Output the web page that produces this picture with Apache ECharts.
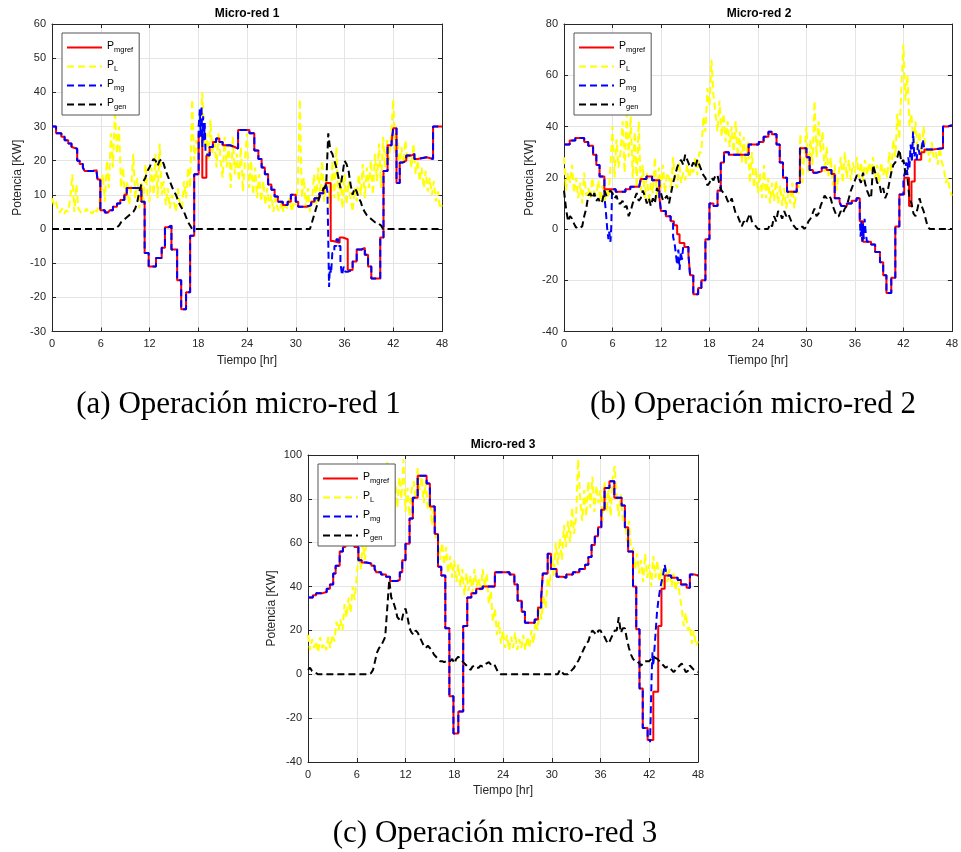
<!DOCTYPE html>
<html>
<head>
<meta charset="utf-8">
<title>Operación micro-redes</title>
<script src="https://cdn.jsdelivr.net/npm/echarts@6/dist/echarts.min.js"></script>
<style>
  html, body { margin: 0; padding: 0; background: #ffffff; }
  #chart { width: 961px; height: 852px; }
</style>
</head>
<body>
<div id="chart"></div>
<script>
// Sampling period of the measured load / generator series [h]
const STEP_H = 0.25;

// Time axis ticks [h]
const timeTicks = [0, 6, 12, 18, 24, 30, 36, 42, 48];

// ---------- Micro-red 1 ----------
const load1 = [
  9,7,8,5, 5,6,4.5,5.5, 5,9,16,5, 13,6,5,4.5,
  5,6,4.5,5, 4.5,6,5,7, 10,16,8,20, 12,28,18,35,
  22,30,12,18, 8,14,7,12, 22,9,15,6, 14,7,19,10,
  8,18,10,22, 9,25,10,14, 7,12,6,10, 8,5,12,7,
  6,14,9,18, 12,38,20,26, 22,30,40,24, 28,20,32,22,
  26,18,28,20, 15,27,18,25, 12,27,16,22, 14,24,11,20,
  28,12,20,10, 18,9,16,8, 14,7,12,6, 10,5,9,6,
  5,8,5,7, 6,9,5,8, 7,12,38,9, 15,6,12,5,
  8,16,7,18, 10,20,8,15, 12,6,20,9, 24,8,15,6,
  16,7,14,9, 5,12,8,16, 10,19,9,18, 12,20,10,22,
  14,25,12,27, 18,26,20,28, 38,22,27,18, 24,19,26,20,
  22,18,25,16, 20,14,18,12, 17,11,15,10, 14,8,11,6,
  7
];
const gen1 = [
  0,0,0,0, 0,0,0,0, 0,0,0,0, 0,0,0,0,
  0,0,0,0, 0,0,0,0, 0,0,0,0, 0,0,0,0,
  0.5,1,2,2.5, 3,3.5,4,4.5, 5,6,8,11, 13,14,15,17,
  18,19.5,20.5,20, 18.5,20,20.5,19, 17,15.5,14,12.5, 11,10,8.5,7,
  6,5,3.5,2, 1,0,0,0, 0,0,0,0, 0,0,0,0,
  0,0,0,0, 0,0,0,0, 0,0,0,0, 0,0,0,0,
  0,0,0,0, 0,0,0,0, 0,0,0,0, 0,0,0,0,
  0,0,0,0, 0,0,0,0, 0,0,0,0, 0,0,0,0,
  2,4,6,8, 10,11,12,13, 28,23,22,20, 18,15,12,16,
  20,19,17,13, 10,12,11,9, 8,6,5,4, 3.5,3,2.5,2,
  2,1.5,1,0, 0,0,0,0, 0,0,0,0, 0,0,0,0,
  0,0,0,0, 0,0,0,0, 0,0,0,0, 0,0,0,0,
  0
];
const ref1T = [0,0.5,1.15,1.55,2,2.4,2.6,3.1,3.4,3.8,4,5,5.5,5.6,5.95,6.5,6.9,7.1,7.5,8,
  8.4,8.9,9.2,11,11.4,11.9,12.8,13.5,13.9,14.3,14.7,15.4,15.9,16.5,17,17.5,18.05,18.5,19,19.4,
  19.8,20.2,20.6,21,21.9,22.5,22.9,24.3,24.9,25.4,25.8,26.2,26.6,27,27.4,27.8,28.4,29,29.4,30,
  30.3,31.3,31.9,32.3,32.9,33.4,33.7,34.3,34.6,35.4,35.8,36.4,37,37.5,38.1,38.5,38.9,39.3,40.4,40.8,
  41.3,41.8,42,42.4,42.8,43.2,43.6,44.2,44.6,45,46.1,46.9,48];
const ref1V = [30,28,27,26,25,24,23.5,20,19,18,17,17.2,16.5,14.5,5.5,4.8,4.5,5.5,6.5,7.5,
  8.5,10,12,8,-7,-11,-8.5,-5.5,0.5,1,-6,-15,-23.5,-18.5,-2,16,28,15,21.5,24,
  25.5,26.5,25.5,24.5,24,23.5,29,28,23,20.5,18,16,13,11.5,9.5,8,7,8,10,8,
  6.5,7,8,9,10.5,12,13.5,-3.5,-4,-2.5,-3,-12,-9.5,-6,-5.5,-7.5,-11,-14.5,-2.5,17,
  24.5,25.5,29.5,13.5,19.5,20,21.5,22,20.5,21,20.5,30,30];
const mg1T = [0,0.5,1.15,1.55,2,2.4,2.6,3.1,3.4,3.8,4,5,5.5,5.6,5.95,6.5,6.9,7.1,7.5,8,
  8.4,8.9,9.2,11,11.4,11.9,12.8,13.5,13.9,14.3,14.7,15.4,15.9,16.5,17,17.5,
  18.05,18.2,18.3,18.4,18.5,18.6,18.7,18.8,18.9,
  19,19.4,19.8,20.2,20.6,21,21.9,22.5,22.9,24.3,24.9,25.4,25.8,26.2,26.6,27,27.4,27.8,28.4,29,
  29.4,30,30.3,31.3,31.9,32.3,32.9,33.4,33.7,
  33.9,34.1,34.2,34.35,34.5,34.75,35,35.25,35.5,35.7,35.9,36.1,
  36.4,37,37.5,38.1,38.5,38.9,39.3,40.4,40.8,41.3,41.8,42,42.4,42.8,43.2,43.6,44.2,44.6,45,46.1,46.9,48];
const mg1V = [30,28,27,26,25,24,23.5,20,19,18,17,17.2,16.5,14.5,5.5,4.8,4.5,5.5,6.5,7.5,
  8.5,10,12,8,-7,-11,-8.5,-5.5,0.5,1,-6,-15,-23.5,-18.5,-2,16,
  30,35,27,36,24,33,26,31,22,
  21.5,24,25.5,26.5,25.5,24.5,24,23.5,29,28,23,20.5,18,16,13,11.5,9.5,8,7,8,
  10,8,6.5,7,8,9,10.5,12,13.5,
  11,-17,-11,-13,-7,-5,-3,-5,-10,-13.5,-11,-12.5,
  -12,-9.5,-6,-5.5,-7.5,-11,-14.5,-2.5,17,24.5,25.5,29.5,13.5,19.5,20,21.5,22,20.5,21,20.5,30,30];

// ---------- Micro-red 2 ----------
const load2 = [
  28,15,22,18, 25,14,20,12, 18,10,22,13, 16,12,20,14,
  13,19,11,17, 10,15,12,24, 40,20,35,24, 30,42,22,45,
  28,44,20,38, 16,42,15,25, 12,22,10,18, 14,28,12,24,
  16,25,14,22, 20,15,28,18, 16,26,18,22, 19,25,20,24,
  22,28,21,30, 30,44,38,55, 48,66,52,45, 38,50,36,45,
  34,42,32,40, 30,42,28,38, 26,36,25,34, 18,30,16,24,
  14,22,12,25, 12,20,10,18, 11,19,10,17, 9,16,8,14,
  10,18,8,15, 14,37,18,30, 40,22,35,25, 50,28,42,30,
  38,22,32,20, 28,17,25,15, 22,28,18,30, 20,27,19,26,
  22,28,20,26, 19,27,21,26, 22,28,20,25, 18,26,21,24,
  20,30,22,35, 28,45,35,55, 72,50,60,40, 45,32,42,30,
  38,28,40,30, 32,26,34,28, 30,25,32,26, 24,18,20,15,
  13
];
const gen2 = [
  15,8,3,5, 4,2,0.5,1, 0.5,1,5,8, 13,14,12,14,
  11,12,10,11, 15,13,14,15, 14,12,13,10, 10,11,8.5,9,
  5,7,10,12, 14,11,12,15, 13,10,12,9, 12,10,16,14,
  14,11,12,13, 10,14,18,21, 24,26,27,25, 29,27,25,24,
  26,24,27,25, 23,21,20,17, 18,20,19,21, 21,17,15,14,
  13,11,10,12, 9,6,5,3, 1,3,2,4, 6,3,2,1,
  0,0,0,0, 0,0,2,1, 5,3,7,6, 4,7,5,6,
  4,2,1,0, 0,0,1,0, 1,3,4,6, 8,5,6,9,
  11,13,12,13, 12,9,7,5, 5,7,6,8, 9,12,15,17,
  19,21,20,18, 22,18,15,13, 12,25,22,18, 18,14,16,12,
  14,18,22,25, 26,28,31,26, 27,22,20,12, 10,6,5,8,
  12,9,7,4, 1,0,0,0, 0,0,0,0, 0,0,0,0,
  0
];
const ref2T = [0,0.7,1.4,2.5,3,3.6,4,4.4,5,6.4,7.6,8.2,9.3,9.5,10.2,10.9,11.8,12,12.6,13.2,
  13.6,14,14.3,14.9,15.4,15.6,16,16.6,17,17.5,18,18.5,19,19.4,19.8,20.4,22.85,24.1,24.7,25.3,
  25.7,26.3,26.7,27.1,27.6,28.8,29.2,30,30.4,30.8,31.3,31.9,32.5,33.1,33.5,34.1,34.3,35,35.6,36.2,
  36.6,37,38,38.5,39.1,39.5,39.9,40.5,41,41.5,42.1,42.7,43,43.4,44.2,44.6,45.6,46.9,47.5,48];
const ref2V = [33,34.5,35.5,34,32.5,29,25,20.5,15.5,14.5,15.5,16.5,17,19.5,20.5,19,12.5,7,5,3,
  1.5,-2,-5.5,-7,-10,-18,-25.5,-23,-20,-4,10,9,15,26,30,29,33,34,36,38,
  37,33,26,20,14.5,18,31.5,28,23,22,22.5,24,23,21.5,12,10.5,9,10,11,12,
  3,-5,-6,-9,-13,-18,-25,-19,1,13.5,20,9,18.5,27,30,31,31.5,40,40.5,40.5];
const mg2T = [0,0.7,1.4,2.5,3,3.6,4,4.4,
  5,5.2,5.35,5.5,5.6,5.75,5.85,5.95,
  6.4,7.6,8.2,9.3,9.5,10.2,10.9,11.8,12,12.6,13.2,
  13.5,13.7,13.85,14,14.15,14.3,14.45,14.6,14.75,
  15.4,15.6,16,16.6,17,17.5,18,18.5,19,19.4,19.8,20.4,22.85,24.1,24.7,25.3,25.7,26.3,26.7,27.1,
  27.6,28.8,29.2,30,30.4,30.8,31.3,31.9,32.5,33.1,33.5,34.1,34.3,35,35.6,36.2,
  36.6,36.7,36.8,36.9,37,37.1,37.2,37.35,37.5,
  38,38.5,39.1,39.5,39.9,40.5,41,41.5,
  42,42.2,42.35,42.5,42.6,42.75,42.9,43.05,43.2,43.35,43.5,43.65,43.8,44,44.2,44.4,44.6,
  45.6,46.9,47.5,48];
const mg2V = [33,34.5,35.5,34,32.5,29,25,20.5,
  13,6,0,-4,-1,-5,1,15.5,
  14.5,15.5,16.5,17,19.5,20.5,19,12.5,7,5,3,
  -3,-6,-10,-14,-8,-16,-9,-12,-7,
  -10,-18,-25.5,-23,-20,-4,10,9,15,26,30,29,33,34,36,38,37,33,26,20,
  14.5,18,31.5,28,23,22,22.5,24,23,21.5,12,10.5,9,10,11,12,
  5,-3,3,-5,2,-4,4,-2,-5,
  -6,-9,-13,-18,-25,-19,1,13.5,
  20,22,26,21,28,24,33,26,38,28,30,27,33,29,30,35,31,
  31.5,40,40.5,40.5];

// ---------- Micro-red 3 ----------
const load3 = [
  18,11,16,12, 15,10,17,12, 14,11,17,12, 18,15,24,20,
  25,20,32,26, 35,28,40,34, 45,55,48,60, 52,64,58,70,
  65,75,62,78, 72,85,78,97, 80,92,78,88, 76,90,80,98,
  74,85,72,84, 88,80,94,84, 90,78,88,75, 82,68,76,62,
  64,52,60,50, 58,46,54,44, 52,42,50,40, 48,36,46,38,
  45,37,48,40, 44,38,48,40, 46,32,38,24, 30,18,24,14,
  20,12,18,11, 17,12,19,11, 16,12,18,11, 17,12,20,14,
  24,20,30,25, 36,30,44,40, 55,45,60,50, 62,52,68,58,
  70,60,76,64, 72,98,80,70, 84,72,88,76, 90,74,86,78,
  84,70,88,74, 86,72,90,95, 80,72,82,70, 72,60,70,58,
  58,48,55,46, 52,42,55,44, 50,40,54,44, 52,42,48,40,
  50,42,48,40, 46,38,44,36, 30,22,28,20, 22,14,20,13,
  15
];
const gen3 = [
  2,3,1.5,1, 0.5,0,0,0, 0,0,0,0, 0,0,0,0,
  0,0,0,0, 0,0,0,0, 0,0,0,0, 0,0,0,0.5,
  2,6,10,12, 13,15,17,30, 43,35,33,30, 26,25,24,28,
  30,26,21,19, 18,20,19,17, 15,13,12,13, 12,11,9,8,
  7,6,6,5.5, 6,6.5,6,7, 5,7,8,7, 6,5,4,3,
  2,3.5,4,3, 3,4,3.5,4.5, 5,5.5,4.5,5, 4,2,0.5,0,
  0,0,0,0, 0,0,0,0, 0,0,0,0, 0,0,0,0,
  0,0,0,0, 0,0,0,0, 0,0,0,0, 2,1,0,0,
  0,1,2,3, 5,6,8,10, 12,14,15,18, 20,19,18,20,
  20,18,17,15, 14,16,18,20, 20,26,19,21, 21,16,12,9,
  7,6,6,5, 4,5,6,6, 6,7,8,7.5, 7,6,5,4,
  3,3.5,3,2, 1,2,3,4, 5,3,1,1.5, 4,3,2,1.5,
  1
];
const ref3T = [0,0.6,1,1.8,2.3,2.7,3.1,3.4,3.9,4.3,4.6,5.1,5.7,6.2,6.6,7.2,7.8,8.2,8.4,9,
  9.6,10.1,10.9,11.3,11.6,12,12.5,12.9,13.5,14.6,15,15.6,16,16.4,16.9,17.4,17.9,18.5,19.1,19.6,
  20.1,20.7,21.5,23,24.8,25.4,25.8,26.3,26.7,27.9,28.3,28.7,28.9,29.5,29.9,30.6,31.4,31.8,32.6,33.4,
  34.1,34.5,34.9,35.3,35.7,36.1,36.5,37.1,37.7,38.6,39,39.4,40,40.4,40.8,41.2,41.8,42.5,43.1,43.5,
  43.9,44.7,45.5,45.9,46.6,47,47.6,48];
const ref3V = [35,36,37,37.5,39,41,46,49.5,56,58,59.5,60.5,58,52,51,50.5,49.5,48,46.5,45.5,
  44.5,42.5,43,46.5,52,59.5,71,80.5,90.5,87,76.5,64,49,45,21,-10,-27,-17,22,35,
  37,39,40,46.5,45.5,41,33.5,28.5,23.5,25,30.5,35,46,55,48,44.5,44,45.5,46.5,48,
  50,53.5,59,63,67,75,85,88,80.5,77,67,56,40,20.5,-6.5,-24.5,-30,-8,22,39,
  45,44,43,41,39.5,45.5,45,45];
const mg3T = [0,0.6,1,1.8,2.3,2.7,3.1,3.4,3.9,4.3,4.6,5.1,5.7,6.2,6.6,7.2,7.8,8.2,8.4,9,
  9.6,10.1,10.9,11.3,11.6,12,12.5,12.9,13.5,14.6,15,15.6,16,16.4,16.9,17.4,17.9,18.5,19.1,19.6,
  20.1,20.7,21.5,23,24.8,25.4,25.8,26.3,26.7,27.9,28.3,28.7,28.9,29.5,29.9,30.6,31.4,31.8,32.6,33.4,
  34.1,34.5,34.9,35.3,35.7,36.1,36.5,37.1,37.7,38.6,39,39.4,40,40.4,40.8,41.2,41.8,
  42.1,42.3,42.4,42.5,42.65,42.8,42.95,43.1,43.3,43.5,43.7,43.9,44.1,44.3,
  44.7,45.5,45.9,46.6,47,47.6,48];
const mg3V = [35,36,37,37.5,39,41,46,49.5,56,58,59.5,60.5,58,52,51,50.5,49.5,48,46.5,45.5,
  44.5,42.5,43,46.5,52,59.5,71,80.5,90.5,87,76.5,64,49,45,21,-10,-27,-17,22,35,
  37,39,40,46.5,45.5,41,33.5,28.5,23.5,25,30.5,35,46,55,48,44.5,44,45.5,46.5,48,
  50,53.5,59,63,67,75,85,88,80.5,77,67,56,40,20.5,-6.5,-24.5,-30,
  -31,0,10,4,12,20,28,33,38,42,45,50,46,45,
  44,43,41,39.5,45.5,45,45];

// Power axis limits per panel: [min, max, step]
const powerAxes = [[-30, 60, 10], [-40, 80, 20], [-40, 100, 20]];
const panelTitles = ['Micro-red 1', 'Micro-red 2', 'Micro-red 3'];
const captions = ['(a) Operación micro-red 1', '(b) Operación micro-red 2', '(c) Operación micro-red 3'];
const seriesNames = ['mgref', 'L', 'mg', 'gen'];

// ---------- layout & styling ----------
const SANS = '"Liberation Sans", Arial, Helvetica, sans-serif';
const SERIF = '"Liberation Serif", "Times New Roman", serif';
const INK = '#262626';
const DASH = [7, 4];

const panels = [
  { grid: { left: 52, top: 24, width: 390, height: 307.5 }, nameGap: 28,
    load: load1, gen: gen1, refT: ref1T, refV: ref1V, mgT: mg1T, mgV: mg1V,
    titleX: 247, titleY: 14, capX: 238.5, capY: 405 },
  { grid: { left: 564, top: 24, width: 390, height: 307.5 }, nameGap: 28,
    load: load2, gen: gen2, refT: ref2T, refV: ref2V, mgT: mg2T, mgV: mg2V,
    titleX: 759, titleY: 14, capX: 753, capY: 405 },
  { grid: { left: 308, top: 455, width: 390, height: 307 }, nameGap: 30,
    load: load3, gen: gen3, refT: ref3T, refV: ref3V, mgT: mg3T, mgV: mg3V,
    titleX: 503, titleY: 445, capX: 495, capY: 834 }
];

const sampled = arr => arr.map((v, i) => [i * STEP_H, v]);
const stepped = (ts, vs) => ts.map((t, i) => [t, vs[i]]);

const grid = [], xAxis = [], yAxis = [], series = [], legend = [], graphic = [];

panels.forEach((p, k) => {
  grid.push(Object.assign({ containLabel: false }, p.grid));
  const [ymin, ymax, ystep] = powerAxes[k];

  const frameLine = { show: true, onZero: false, lineStyle: { color: INK, width: 1 } };
  const tick = { show: true, inside: true, length: 4, lineStyle: { color: INK, width: 1 } };

  xAxis.push({
    type: 'value', gridIndex: k, position: 'bottom', min: timeTicks[0], max: timeTicks[timeTicks.length - 1], interval: 6,
    axisLine: frameLine, axisTick: tick,
    axisLabel: { color: INK, fontSize: 11, fontFamily: SANS, margin: 7 },
    splitLine: { show: true, lineStyle: { color: '#e4e4e4', width: 1 } },
    name: 'Tiempo [hr]', nameLocation: 'middle', nameGap: 23,
    nameTextStyle: { color: INK, fontSize: 12, fontFamily: SANS }
  });
  xAxis.push({
    type: 'value', gridIndex: k, position: 'top', min: timeTicks[0], max: timeTicks[timeTicks.length - 1], interval: 6,
    axisLine: frameLine, axisTick: tick, axisLabel: { show: false }, splitLine: { show: false }
  });
  yAxis.push({
    type: 'value', gridIndex: k, position: 'left', min: ymin, max: ymax, interval: ystep,
    axisLine: frameLine, axisTick: tick,
    axisLabel: { color: INK, fontSize: 11, fontFamily: SANS, margin: 6 },
    splitLine: { show: true, lineStyle: { color: '#e4e4e4', width: 1 } },
    name: 'Potencia [KW]', nameLocation: 'middle', nameGap: p.nameGap, nameRotate: 90,
    nameTextStyle: { color: INK, fontSize: 12, fontFamily: SANS }
  });
  yAxis.push({
    type: 'value', gridIndex: k, position: 'right', min: ymin, max: ymax, interval: ystep,
    axisLine: frameLine, axisTick: tick, axisLabel: { show: false }, splitLine: { show: false }
  });

  const common = {
    type: 'line', xAxisIndex: 2 * k, yAxisIndex: 2 * k,
    symbol: 'none', showSymbol: false, silent: true, animation: false, clip: true
  };
  series.push(Object.assign({}, common, {
    name: 'L', data: sampled(p.load), color: '#ffff00',
    lineStyle: { color: '#ffff00', width: 2, type: DASH }
  }));
  series.push(Object.assign({}, common, {
    name: 'mgref', data: stepped(p.refT, p.refV), step: 'end', color: '#ff0000',
    lineStyle: { color: '#ff0000', width: 2, type: 'solid' }
  }));
  series.push(Object.assign({}, common, {
    name: 'mg', data: stepped(p.mgT, p.mgV), step: 'end', color: '#0000ff',
    lineStyle: { color: '#0000ff', width: 2, type: DASH }
  }));
  series.push(Object.assign({}, common, {
    name: 'gen', data: sampled(p.gen), color: '#000000',
    lineStyle: { color: '#000000', width: 2, type: DASH }
  }));

  legend.push({
    orient: 'vertical', left: p.grid.left + 10, top: p.grid.top + 9,
    data: seriesNames, selectedMode: false,
    backgroundColor: '#ffffff', borderColor: '#555555', borderWidth: 1,
    padding: [5, 6, 4, 4], itemWidth: 35, itemHeight: 14, itemGap: 3,
    // line-only keys: hide the marker drawn in the middle of each key
    itemStyle: { opacity: 0, borderWidth: 0 },
    formatter: name => '{p|P}{s|' + name + '}',
    textStyle: {
      color: '#000', fontFamily: SANS,
      rich: {
        p: { fontSize: 10.5, lineHeight: 13, verticalAlign: 'top', fontFamily: SANS, color: '#000' },
        s: { fontSize: 7.5, lineHeight: 8, padding: [8, 0, 0, 0], verticalAlign: 'bottom', fontFamily: SANS, color: '#000' }
      }
    }
  });

  graphic.push({
    type: 'text', x: p.titleX, y: p.titleY, silent: true,
    style: { text: panelTitles[k], fontSize: 12, fontWeight: 'bold', fontFamily: SANS, fill: '#000', align: 'center', verticalAlign: 'middle' }
  });
  graphic.push({
    type: 'text', x: p.capX, y: p.capY, silent: true,
    style: { text: captions[k], fontSize: 31, fontFamily: SERIF, fill: '#000', align: 'center', verticalAlign: 'middle' }
  });
});

const chart = echarts.init(document.getElementById('chart'), null, { renderer: 'canvas' });
chart.setOption({
  backgroundColor: '#ffffff',
  animation: false,
  tooltip: { show: false },
  grid, xAxis, yAxis, series, legend, graphic
});
</script>
</body>
</html>
